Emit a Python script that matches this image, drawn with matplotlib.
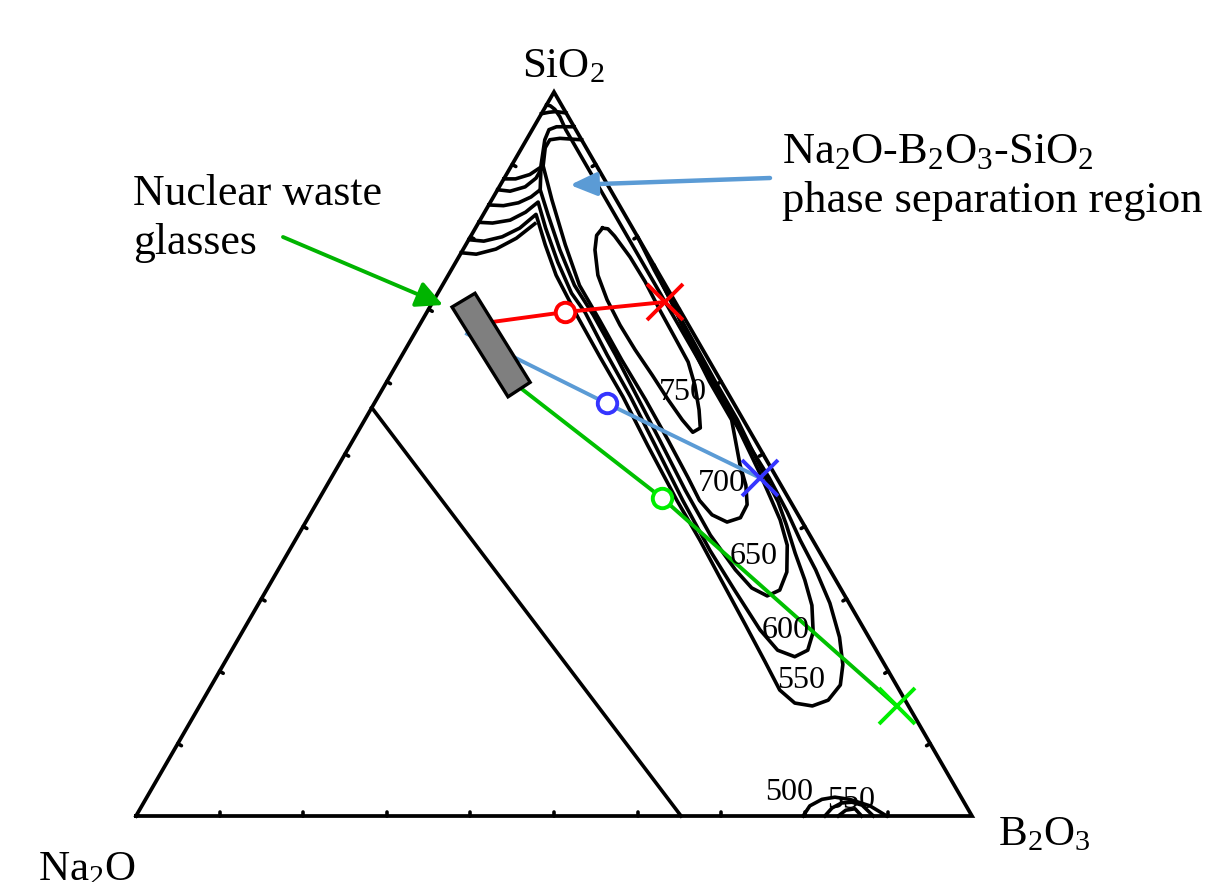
import numpy as np
import matplotlib
matplotlib.use('Agg')
import matplotlib.pyplot as plt
from matplotlib.patches import Polygon

plt.rcParams['font.family'] = 'Liberation Serif'
plt.rcParams['mathtext.fontset'] = 'custom'
plt.rcParams['mathtext.rm'] = 'Liberation Serif'
plt.rcParams['mathtext.it'] = 'Liberation Serif:italic'

# compositions as (B2O3 mol%, SiO2 mol%), Na2O is the rest
iso_750 = [(15.2, 81.2), (15.0, 80.2), (15.8, 78.2), (17.9, 74.7), (20.7, 71.3), (24.0, 67.8),
           (27.5, 64.4), (31.3, 60.9), (34.9, 57.5), (38.0, 54.7), (40.1, 53.0), (40.7, 53.6),
           (39.3, 56.1), (37.1, 59.5), (34.7, 62.7), (31.5, 66.0), (27.7, 69.9), (24.0, 73.8),
           (20.5, 77.2), (17.2, 80.1), (15.9, 81.1), (15.2, 81.2)]
iso_700 = [(0, 86.5), (1.6, 86.3), (3.1, 86.9), (3.8, 88.1), (3.8, 89.8), (7.2, 85.1), (11.9, 78.9),
           (16.4, 73.3), (21.2, 68.5), (26.6, 63.0), (32.2, 57.5), (37.7, 51.9), (42.7, 46.7),
           (45.6, 43.6), (48.1, 41.6), (50.4, 40.6), (51.7, 41.2), (51.6, 43.0), (50.1, 45.7),
           (48.0, 48.5), (43.9, 54.7), (38.6, 60.0), (33.0, 66.0), (29.5, 70.0), (28.0, 72.0)]
iso_700_top = [(6.6, 93.4), (3.9, 93.6), (2.8, 93.4), (2.8, 92.3), (3.8, 89.8)]
iso_650 = [(0, 84.4), (1.8, 84.3), (3.4, 84.7), (4.5, 85.5), (5.1, 86.5), (7.8, 83.0), (11.6, 78.2),
           (15.8, 73.3), (20.1, 69.2), (25.5, 63.7), (31.0, 57.9), (36.7, 51.9), (43.2, 45.0),
           (49.3, 38.8), (54.7, 34.0), (57.9, 31.5), (60.3, 30.4), (61.4, 31.2), (61.0, 33.7),
           (59.2, 37.4), (56.6, 40.9), (53.8, 44.1), (50.8, 47.5), (44.2, 54.7), (38.9, 60.0),
           (31.3, 68.0), (26.2, 73.5), (24.0, 76.0)]
iso_650_top = [(4.8, 95.2), (2.7, 95.2), (2.0, 94.8), (2.2, 93.4), (3.5, 89.9), (5.1, 86.5)]
iso_600 = [(0, 82.0), (1.7, 81.9), (3.6, 82.3), (4.9, 83.4), (5.7, 84.8), (8.4, 81.2), (12.2, 76.5),
           (16.0, 72.2), (19.0, 69.5), (24.5, 63.7), (30.2, 57.9), (36.5, 51.2), (43.6, 43.6),
           (50.3, 36.7), (56.0, 31.2), (61.8, 25.7), (65.3, 22.9), (67.8, 22.0), (68.9, 22.9),
           (68.3, 25.4), (66.3, 29.1), (63.7, 32.6), (60.7, 36.3), (57.7, 40.2), (55.1, 43.4),
           (51.6, 47.1), (44.6, 54.7), (39.3, 60.0), (31.5, 68.0), (24.3, 75.4), (20.0, 80.0)]
iso_600_top = [(2.9, 97.1), (1.6, 97.3), (0.8, 97.2), (0, 97.0)]
iso_550 = [(0, 79.6), (1.9, 79.4), (3.8, 80.0), (5.3, 81.2), (6.3, 83.1), (9.5, 78.9), (12.9, 74.7),
           (18.5, 68.8), (23.8, 63.4), (29.3, 57.9), (35.6, 51.2), (42.9, 43.6), (48.4, 38.1),
           (53.7, 32.6), (59.7, 26.4), (64.6, 21.3), (68.3, 17.4), (71.0, 15.6), (73.3, 15.2),
           (74.8, 16.0), (75.2, 18.1), (74.1, 20.9), (71.8, 24.7), (68.3, 29.4), (64.3, 34.0),
           (60.4, 38.1), (56.9, 42.0), (52.4, 46.7), (44.1, 54.7), (38.8, 60.0), (30.8, 68.0),
           (22.8, 76.0), (14.8, 84.0), (8.8, 90.0), (4.0, 94.8), (2.4, 96.6), (1.3, 97.6),
           (0.5, 98.1), (0, 98.2)]
# extra binary arcs near the Na2O-SiO2 edge
arc_a = [(0, 88.0), (1.4, 88.0), (2.8, 88.6), (3.6, 89.6)]
arc_b = [(0, 77.8), (1.9, 77.6), (3.9, 78.3), (5.6, 79.8), (6.8, 81.8)]
low_500 = [(79.8, 0), (79.9, 1.4), (80.9, 2.3), (82.3, 2.6), (84.2, 2.3), (87.1, 1.4), (89.8, 0)]
low_550 = [(82.4, 0), (82.7, 1.1), (83.5, 1.8), (84.7, 1.9), (86.1, 1.5), (88.2, 0)]
low_600 = [(84.0, 0), (84.5, 0.8), (85.5, 1.0), (86.8, 0)]

divide_line = [(0, 56.4), (65.2, 0)]
glass_box = [(2.65, 70.3), (4.45, 72.2), (17.2, 59.9), (15.55, 57.9)]

# tie lines: start (inside glass box), circle, cross
red_path = [(7.1, 68.0), (16.5, 69.6), (27.8, 71.0)]
blue_path = [(6.3, 66.6), (27.8, 57.0), (51.3, 46.7)]
green_path = [(15.5, 59.7), (41.0, 43.9), (83.4, 15.2)]

iso_labels = ['750', '700', '650', '600', '550', '500', '550']
label_px = [(683, 393), (722, 483), (754, 557), (786, 630), (801, 680), (789, 793), (851, 801)]

W, H = 1206, 882
SC = 8.36  # pixels per percent


def tern(pts):
    a = np.asarray(pts, float)
    b, s = a[:, 0], a[:, 1]
    return b + s / 2, s * np.sqrt(3) / 2


def fpx(x, y):
    return (x / W, 1 - y / H)


fig = plt.figure(figsize=(12.06, 8.82), dpi=100)
ax = fig.add_axes([0, 0, 1, 1])
ax.set_xlim(-136 / SC, (W - 136) / SC)
ax.set_ylim(-(H - 816) / SC, 816 / SC)
ax.axis('off')

# triangle frame
tx, ty = tern([(0, 0), (100, 0), (0, 100), (0, 0)])
ax.plot(tx, ty, color='black', lw=2.7, solid_joinstyle='miter', zorder=2)

# small ticks every 10 %
r3 = np.sqrt(3) / 2
for t in range(10, 100, 10):
    for (b, s), (nx, ny) in [((t, 0), (0, 1)), ((0, t), (r3, -0.5)), ((100 - t, t), (-r3, -0.5))]:
        x0, y0 = tern([(b, s)])
        ax.plot([x0[0], x0[0] + 0.5 * nx], [y0[0], y0[0] + 0.5 * ny], color='black', lw=2.6,
                solid_capstyle='round', zorder=2)

x, y = tern(divide_line)
ax.plot(x, y, color='black', lw=2.6, zorder=2)

for iso in [iso_750, iso_700, iso_700_top, iso_650, iso_650_top, iso_600, iso_600_top,
            iso_550, arc_a, arc_b, low_500, low_550, low_600]:
    x, y = tern(iso)
    ax.plot(x, y, color='black', lw=2.6, solid_joinstyle='round', zorder=2)

for lab, (px, py) in zip(iso_labels, label_px):
    fig.text(*fpx(px, py), lab, fontsize=23, ha='center', va='center', zorder=3)

# tie lines
for path, lc, mc in [(red_path, '#ff0000', '#ff0000'), (blue_path, '#5b9bd5', '#3535ff'),
                     (green_path, '#00c000', '#00ee00')]:
    x, y = tern(path)
    ax.plot(x, y, color=lc, lw=2.8, zorder=3)
    ax.plot(x[1], y[1], 'o', ms=14, mfc='white', mec=mc, mew=2.8, zorder=4)
    ax.plot(x[2], y[2], 'x', ms=26, mec=mc, mew=2.8, zorder=4)

bx, by = tern(glass_box)
ax.add_patch(Polygon(np.column_stack([bx, by]), closed=True, facecolor='#7f7f7f',
                     edgecolor='black', lw=2.4, zorder=5))

# corner labels
fig.text(*fpx(522, 77), r'SiO$_\mathrm{2}$', fontsize=31, ha='left', va='baseline')
fig.text(*fpx(998, 845), r'B$_\mathrm{2}$O$_\mathrm{3}$', fontsize=31, ha='left', va='baseline')
fig.text(*fpx(38, 880), r'Na$_\mathrm{2}$O', fontsize=31, ha='left', va='baseline')

fig.text(*fpx(782, 163), r'Na$_\mathrm{2}$O-B$_\mathrm{2}$O$_\mathrm{3}$-SiO$_\mathrm{2}$',
         fontsize=32, ha='left', va='baseline')
fig.text(*fpx(782, 212), 'phase separation region', fontsize=32, ha='left', va='baseline')
fig.text(*fpx(133, 205), 'Nuclear waste', fontsize=31.5, ha='left', va='baseline')
fig.text(*fpx(133, 254), 'glasses', fontsize=31.5, ha='left', va='baseline')

ax.annotate('', xy=fpx(443, 305), xytext=fpx(283, 237), xycoords='figure fraction',
            textcoords='figure fraction',
            arrowprops=dict(arrowstyle='-|>,head_length=0.8,head_width=0.4', color='#00b400',
                            lw=2.8, mutation_scale=20, shrinkA=0, shrinkB=0))
ax.annotate('', xy=fpx(570, 185), xytext=fpx(770, 178), xycoords='figure fraction',
            textcoords='figure fraction',
            arrowprops=dict(arrowstyle='-|>,head_length=0.8,head_width=0.35', color='#5b9bd5',
                            lw=3.2, mutation_scale=20, shrinkA=0, shrinkB=0))

fig.savefig('out.png', dpi=100)
